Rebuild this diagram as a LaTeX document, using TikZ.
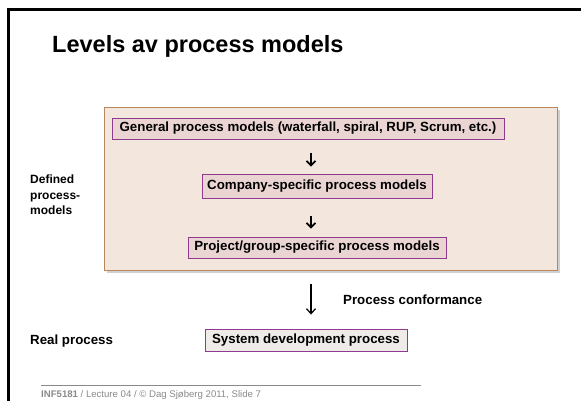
\documentclass[tikz,border=0pt]{standalone}
\usepackage{fontspec}
\setmainfont{Liberation Sans}
\usetikzlibrary{arrows.meta,positioning,calc}
\definecolor{framebg}{HTML}{F3E6DC}
\definecolor{frameedge}{HTML}{B9875B}
\definecolor{boxfill}{HTML}{EAD5D3}
\definecolor{boxedge}{HTML}{8E3A8E}
\definecolor{realfill}{HTML}{EFEBE8}
\definecolor{footgrey}{HTML}{8A8A8A}
\tikzset{
  body/.style={font=\fontsize{13.3}{15}\selectfont\bfseries},
  modelbox/.style={body, draw=boxedge, line width=0.9pt, fill=boxfill, inner sep=0pt, anchor=center},
  realbox/.style={modelbox, fill=realfill},
  smallarrow/.style={line width=1.9pt, -{Straight Barb[length=4.5pt,width=9pt,line width=1.7pt]}},
  bigarrow/.style={line width=1.3pt, -{Straight Barb[length=5pt,width=9pt,line width=1.2pt]}},
  sidelabel/.style={body, anchor=west, inner sep=0pt, align=left}
}
\begin{document}
\begin{tikzpicture}[x=1pt,y=-1pt]
\useasboundingbox (0,0) rectangle (581,400);
\fill[white] (0,0) rectangle (581,400);

% slide frame (only its upper-left part lies in view)
\draw[line width=2.6pt] (8.5,402) -- (8.5,9.5) -- (583,9.5);

% title
\node[anchor=base west, inner sep=0pt, font=\fontsize{23.5}{26}\selectfont\bfseries] (title) at (52,52) {Levels av process models};

% group of defined process models
\fill[black!30, opacity=0.6] (106.5,109.5) rectangle (559.5,272.5);
\node[draw=frameedge, line width=0.9pt, fill=framebg, minimum width=453pt, minimum height=163pt, inner sep=0pt] (defined) at (330.5,188.5) {};

\node[modelbox, minimum width=392pt, minimum height=21pt] (gen) at (308,128.5) {General process models (waterfall, spiral, RUP, Scrum, etc.)};
\node[modelbox, minimum width=230pt, minimum height=24pt] (comp) at (317,186) {Company-specific process models};
\node[modelbox, minimum width=258pt, minimum height=21pt] (proj) at (317,247.5) {Project/group-specific process models};

\draw[smallarrow, shorten <=14pt, shorten >=7pt] ([xshift=3pt]gen.south) -- ([xshift=3pt]gen.south |- comp.north);
\draw[smallarrow, shorten <=18pt, shorten >=8pt] ([xshift=-6pt]comp.south) -- ([xshift=-6pt]comp.south |- proj.north);

% real process
\node[realbox, minimum width=202pt, minimum height=22pt] (sys) at (306,340) {System development process};
\draw[bigarrow, shorten <=14pt, shorten >=14pt] (defined.south -| 311,0) -- (sys.north -| 311,0);

\node[sidelabel] (conf) at (343,300) {Process conformance};
\node[sidelabel] (real) at (30,341) {Real process};
\node[sidelabel, font=\fontsize{12}{15.5}\selectfont\bfseries] (deflabel) at (30,195) {Defined\\process-\\models};

% footer
\draw[footgrey, line width=0.8pt] (41,385) -- (421,385);
\node[anchor=base west, inner sep=0pt, text=footgrey, font=\fontsize{9.6}{11}\selectfont] (foot) at (41,397) {\textbf{INF5181} / Lecture 04 / \textcopyright{} Dag Sjøberg 2011, Slide 7};
\end{tikzpicture}
\end{document}
